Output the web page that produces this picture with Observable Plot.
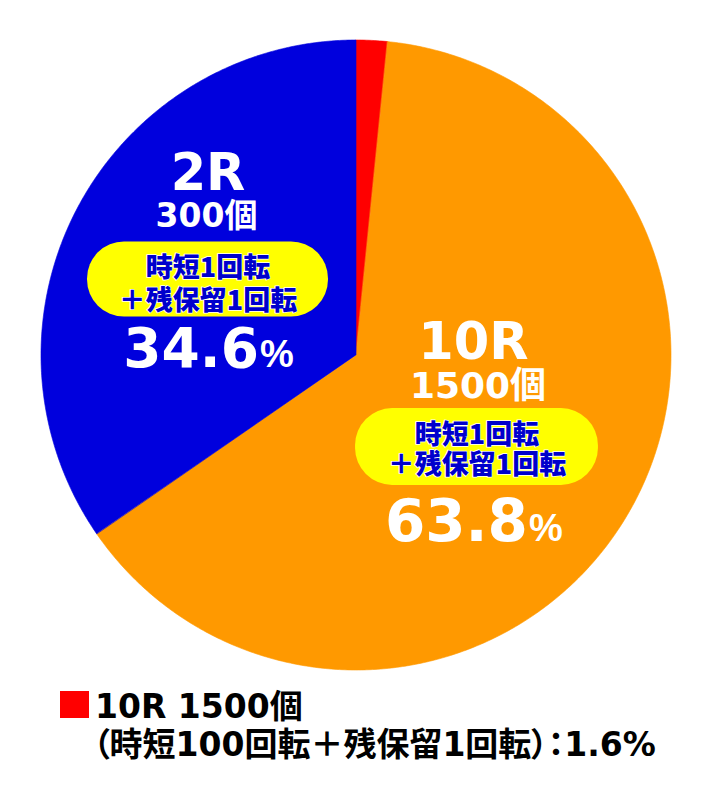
<!DOCTYPE html>
<html>
<head>
<meta charset="utf-8">
<script src="https://cdn.jsdelivr.net/npm/d3@7"></script>
<script src="https://cdn.jsdelivr.net/npm/@observablehq/plot@0.6"></script>
<style>
  html, body { margin: 0; padding: 0; background: #fff; }
  #chart { width: 712px; }
  #chart svg { display: block; }
</style>
</head>
<body>
<div id="chart"></div>
<script>
// ---- data ----
const sliceKeys = [
  "10R 1500個（時短100回転＋残保留1回転）",
  "10R 1500個（時短1回転＋残保留1回転）",
  "2R 300個（時短1回転＋残保留1回転）"
];
const sliceShares = [1.6, 63.8, 34.6];
const roundLabels = ["10R", "10R", "2R"];
const ballLabels = ["1500個", "1500個", "300個"];
const condLine1 = ["時短100回転", "時短1回転", "時短1回転"];
const condLine2 = ["＋残保留1回転", "＋残保留1回転", "＋残保留1回転"];

// ---- styles ----
const palette = ["#ff0000", "#ff9900", "#0000dd"];
const LATIN = "'DejaVu Sans', 'Noto Sans CJK JP', sans-serif";
const CJK = "'Noto Sans CJK JP', sans-serif";

// wedge outlines from the shares (d3.pie angles, clockwise from 12 o'clock)
const arcs = d3.pie().sort(null).value(d => d)(sliceShares);
const wedgePts = arcs.flatMap((a, i) => {
  const n = Math.max(2, Math.ceil((a.endAngle - a.startAngle) / (Math.PI / 360)));
  return d3.range(n + 1).map(k => {
    const t = a.startAngle + (a.endAngle - a.startAngle) * k / n;
    return {slice: sliceKeys[i], x: Math.sin(t), y: Math.cos(t)};
  });
});

// label layout for the two big slices (data units: pie radius = 1)
const inner = [
  {i: 2, at: [-0.4714, 0.2413], pill: [0.765, 0.238],
   title: {size: 51, dx: 0, dy: -89.5}, count: {size: 33, dx: -1.5, dy: -52.5},
   cond: {dy: 3.5, lh: 1.2}, pct: {size: 55, dy: 87.5}},
  {i: 1, at: [0.3825, -0.2905], pill: [0.771, 0.244],
   title: {size: 51, dx: -3.5, dy: -88.5}, count: {size: 36, dx: 1, dy: -49.5},
   cond: {dy: 2, lh: 1.12}, pct: {size: 58, dy: 93.5}}
];

const marks = [
  Plot.area(wedgePts, {
    x1: 0, y1: 0, x2: "x", y2: "y", z: "slice",
    fill: "slice", stroke: "slice", strokeWidth: 0.6
  }),
  Plot.rect(inner, {
    x1: d => d.at[0] - d.pill[0] / 2, x2: d => d.at[0] + d.pill[0] / 2,
    y1: d => d.at[1] - d.pill[1] / 2, y2: d => d.at[1] + d.pill[1] / 2,
    fill: "#ffff00", rx: 37
  })
];

for (const L of inner) {
  const base = {x: () => L.at[0], y: () => L.at[1]};
  marks.push(
    Plot.text([L], {...base, text: d => roundLabels[d.i], dx: L.title.dx, dy: L.title.dy,
      lineAnchor: "bottom", fontSize: L.title.size, fontWeight: "bold", fontFamily: LATIN, fill: "white"}),
    Plot.text([L], {...base, text: d => ballLabels[d.i], dx: L.count.dx, dy: L.count.dy,
      lineAnchor: "bottom", fontSize: L.count.size, fontWeight: "bold", fontFamily: LATIN, fill: "white"}),
    Plot.text([L], {...base, text: d => condLine1[d.i] + "\n" + condLine2[d.i], dy: L.cond.dy,
      lineAnchor: "middle", lineHeight: L.cond.lh, fontSize: 27, fontWeight: 900, fontFamily: CJK,
      fill: "#0000cc", stroke: "white", strokeWidth: 1.5}),
    Plot.text([L], {...base, text: d => sliceShares[d.i].toFixed(1), dx: 51, dy: L.pct.dy,
      textAnchor: "end", lineAnchor: "bottom", fontSize: L.pct.size, fontWeight: "bold",
      fontFamily: LATIN, fill: "white"}),
    Plot.text([L], {...base, text: () => "%", dx: 52, dy: L.pct.dy,
      textAnchor: "start", lineAnchor: "bottom", fontSize: 38, fontWeight: "bold",
      fontFamily: "'Liberation Sans', Arial, sans-serif", fill: "white"})
  );
}

const chart = Plot.plot({
  width: 712,
  height: 680,
  marginLeft: 41, marginRight: 41, marginTop: 40, marginBottom: 10,
  x: {domain: [-1, 1], axis: null},
  y: {domain: [-1, 1], axis: null},
  color: {domain: sliceKeys, range: palette},
  style: {background: "white"},
  marks
});
document.getElementById("chart").appendChild(chart);

// ---- legend below the pie (small slice) ----
const leg = d3.create("svg").attr("width", 712).attr("height", 118)
  .style("display", "block").style("background", "white");
leg.append("rect").attr("x", 60).attr("y", 11).attr("width", 29).attr("height", 27)
  .attr("fill", palette[0]);
leg.append("text").attr("x", 95).attr("y", 38)
  .attr("font-family", LATIN).attr("font-weight", "bold").attr("font-size", 33)
  .attr("fill", "black")
  .text(`${roundLabels[0]} ${ballLabels[0]}`);
leg.append("text").attr("x", 93).attr("y", 76)
  .attr("font-family", LATIN).attr("font-weight", "bold").attr("font-size", 33)
  .attr("fill", "black")
  .style("font-feature-settings", "'palt'")
  .text(`（${condLine1[0]}${condLine2[0]}）：${sliceShares[0]}%`);
document.getElementById("chart").appendChild(leg.node());
</script>
</body>
</html>
